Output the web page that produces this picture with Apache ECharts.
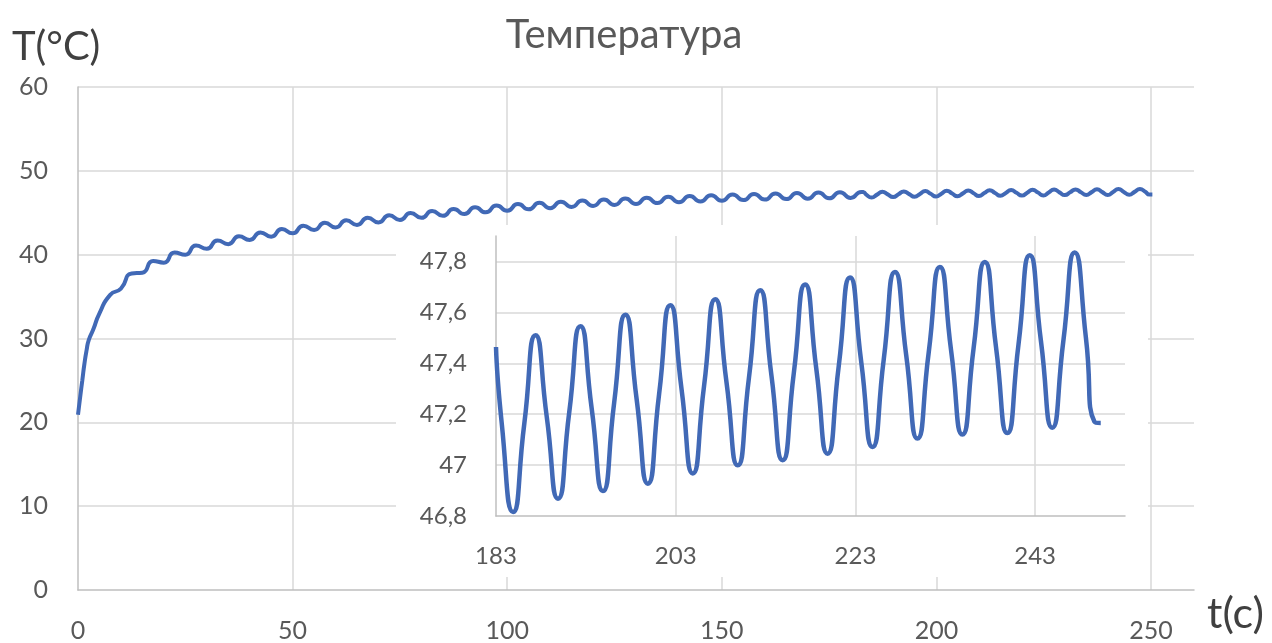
<!DOCTYPE html>
<html>
<head>
<meta charset="utf-8">
<script src="https://cdn.jsdelivr.net/npm/echarts@6/dist/echarts.min.js"></script>
<style>
  html, body { margin: 0; padding: 0; background: #ffffff; }
  #chart { width: 1272px; height: 643px; }
</style>
</head>
<body>
<div id="chart"></div>
<script>
// Heating run: time in seconds, temperature in °C
const mainTime = [0, 0.5, 1, 1.5, 2, 2.5, 3.5, 5, 7.5, 10, 12.5, 15, 17.5, 20, 22.5, 25,
  27.5, 30, 32.5, 35, 37.5, 40, 42.5, 45, 47.5, 50, 52.5, 55, 57.5, 60, 62.5, 65, 67.5,
  70, 72.5, 75, 77.5, 80, 82.5, 85, 87.5, 90, 92.5, 95, 97.5, 100, 102.5, 105, 107.5,
  110, 112.5, 115, 117.5, 120, 122.5, 125, 127.5, 130, 132.5, 135, 137.5, 140, 142.5,
  145, 147.5, 150, 152.5, 155, 157.5, 160, 162.5, 165, 167.5, 170, 172.5, 175, 177.5,
  180, 182.5];
const mainTemp = [20.9, 23.0, 25.0, 27.0, 28.6, 29.8, 31.0, 33.0, 35.2, 35.95, 37.75, 37.85,
  39.25, 39.05, 40.25, 40.0, 41.1, 40.7, 41.7, 41.25, 42.2, 41.75, 42.65, 42.15, 43.05,
  42.55, 43.45, 42.95, 43.8, 43.25, 44.1, 43.55, 44.4, 43.85, 44.7, 44.15, 44.97, 44.39,
  45.21, 44.63, 45.45, 44.85, 45.65, 45.05, 45.85, 45.25, 46.03, 45.41, 46.18, 45.55,
  46.32, 45.69, 46.45, 45.81, 46.57, 45.93, 46.69, 46.05, 46.80, 46.15, 46.90, 46.25,
  47.00, 46.35, 47.09, 46.43, 47.17, 46.51, 47.24, 46.57, 47.30, 46.63, 47.36, 46.68,
  47.41, 46.73, 47.45, 46.77, 47.49];

// Detail of the last part of the run (shown enlarged in the inset)
const insetTime = [183.0, 183.65, 184.9, 186.15, 187.4, 188.65, 189.9, 191.15, 192.4,
  193.65, 194.9, 196.15, 197.4, 198.65, 199.9, 201.15, 202.4, 203.65, 204.9, 206.15,
  207.4, 208.65, 209.9, 211.15, 212.4, 213.65, 214.9, 216.15, 217.4, 218.65, 219.9,
  221.15, 222.4, 223.65, 224.9, 226.15, 227.4, 228.65, 229.9, 231.15, 232.4, 233.65,
  234.9, 236.15, 237.4, 238.65, 239.9, 241.15, 242.4, 243.65, 244.9, 246.15, 247.4,
  248.65, 249.6, 250.3];
const insetTemp = [47.464, 47.16, 46.816, 47.163, 47.510, 47.189, 46.868, 47.207, 47.545,
  47.222, 46.898, 47.245, 47.591, 47.259, 46.927, 47.278, 47.628, 47.298, 46.967, 47.310,
  47.652, 47.326, 46.999, 47.343, 47.687, 47.353, 47.019, 47.364, 47.709, 47.377, 47.045,
  47.391, 47.737, 47.404, 47.071, 47.415, 47.759, 47.432, 47.104, 47.441, 47.778, 47.449,
  47.120, 47.459, 47.798, 47.462, 47.126, 47.475, 47.824, 47.486, 47.147, 47.491, 47.835,
  47.50, 47.17, 47.165];

const chartTitle = 'Температура';
const yName = 'T(°C)';
const xName = 't(c)';

const LINE = '#4169b6';
const GRID = '#d9d9d9';
const AXIS = '#bfbfbf';
const TEXT = '#595959';
const FONT = 'Lato, "Open Sans", sans-serif';

function pairs(xs, ys) { return xs.map((x, i) => [x, ys[i]]); }
const insetData = pairs(insetTime, insetTemp);
const mainData = pairs(mainTime, mainTemp).concat(insetData);

function commaDecimal(v) {
  return String(+(+v).toFixed(1)).replace('.', ',');
}

const chart = echarts.init(document.getElementById('chart'), null, { renderer: 'canvas' });

chart.setOption({
  animation: false,
  backgroundColor: '#ffffff',
  textStyle: { fontFamily: FONT },
  title: [
    { text: chartTitle, left: 624, top: 15, padding: 0, textAlign: 'center',
      textStyle: { fontSize: 40, fontWeight: 'normal', color: TEXT, fontFamily: FONT } },
    { text: yName, left: 12, top: 27, padding: 0, textAlign: 'left',
      textStyle: { fontSize: 40, fontWeight: 'normal', color: '#404040', fontFamily: FONT } },
    { text: xName, left: 1207, top: 593, padding: 0, textAlign: 'left',
      textStyle: { fontSize: 43, fontWeight: 'normal', color: '#404040', fontFamily: FONT } }
  ],
  grid: [
    { left: 78, right: 78, top: 87, bottom: 53, outerBoundsMode: 'none' },
    { left: 496, top: 236, width: 629, height: 280, outerBoundsMode: 'none' }
  ],
  graphic: {
    elements: [
      // white panel behind the inset
      { type: 'rect', silent: true, z: 10,
        shape: { x: 396, y: 225, width: 752, height: 352 },
        style: { fill: '#ffffff' } }
    ]
  },
  xAxis: [
    { gridIndex: 0, type: 'value', min: 0, max: 260, interval: 50,
      axisLine: { show: true, onZero: false, lineStyle: { color: AXIS, width: 1.5 } },
      axisTick: { show: false },
      axisLabel: { showMaxLabel: false, margin: 28, fontSize: 25, color: TEXT, fontFamily: FONT },
      splitLine: { show: true, showMinLine: false, showMaxLine: false,
        lineStyle: { color: GRID, width: 1.5 } } },
    { gridIndex: 1, type: 'value', min: 183, max: 253, interval: 20, z: 20,
      axisLine: { show: true, onZero: false, lineStyle: { color: AXIS, width: 1.5 } },
      axisTick: { show: false },
      axisLabel: { showMaxLabel: false, margin: 28, fontSize: 24, color: TEXT, fontFamily: FONT },
      splitLine: { show: true, showMinLine: false, showMaxLine: false,
        lineStyle: { color: GRID, width: 1.5 } } }
  ],
  yAxis: [
    { gridIndex: 0, type: 'value', min: 0, max: 60, interval: 10,
      axisLine: { show: true, lineStyle: { color: AXIS, width: 1.5 } },
      axisTick: { show: false },
      axisLabel: { margin: 30, fontSize: 25, color: TEXT, fontFamily: FONT },
      splitLine: { show: true, showMinLine: false, lineStyle: { color: GRID, width: 1.5 } } },
    { gridIndex: 1, type: 'value', min: 46.8, max: 47.9, interval: 0.2, z: 20,
      axisLine: { show: true, lineStyle: { color: AXIS, width: 1.5 } },
      axisTick: { show: false },
      axisLabel: { showMaxLabel: false, margin: 29, fontSize: 24, color: TEXT, fontFamily: FONT,
        formatter: commaDecimal },
      splitLine: { show: true, showMinLine: false, showMaxLine: false,
        lineStyle: { color: GRID, width: 1.5 } } }
  ],
  series: [
    { name: chartTitle, type: 'line', xAxisIndex: 0, yAxisIndex: 0, data: mainData,
      showSymbol: false, smooth: 0.6, z: 2, silent: true,
      lineStyle: { color: LINE, width: 4 } },
    { name: chartTitle, type: 'line', xAxisIndex: 1, yAxisIndex: 1, data: insetData,
      showSymbol: false, smooth: 0.62, z: 21, silent: true,
      lineStyle: { color: LINE, width: 4.5 } }
  ]
});
</script>
</body>
</html>
